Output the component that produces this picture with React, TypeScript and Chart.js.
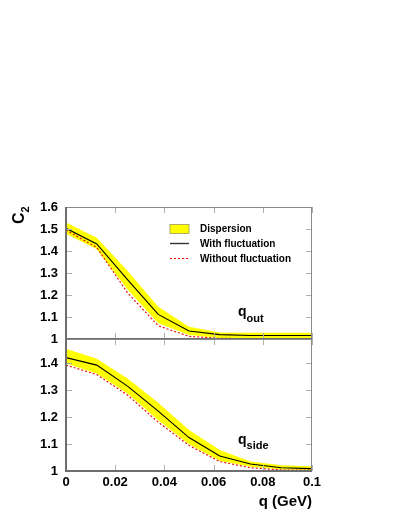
import { useEffect, useRef } from 'react';
import { Chart, registerables } from 'chart.js';

Chart.register(...registerables);

// q grid (GeV)
const Q = [0, 0.0125, 0.025, 0.0375, 0.05, 0.0625, 0.075, 0.0875, 0.1];

// q_out panel
const OUT_BAND_HI = [1.53, 1.46, 1.31, 1.147, 1.056, 1.03, 1.028, 1.028, 1.028];
const OUT_BAND_LO = [1.478, 1.408, 1.225, 1.072, 1.018, 1.005, 1.005, 1.005, 1.005];
const OUT_WITH = [1.503, 1.432, 1.27, 1.112, 1.036, 1.02, 1.016, 1.016, 1.016];
const OUT_WITHOUT = [1.495, 1.416, 1.21, 1.06, 1.012, 1.003, 1.002, 1.002, 1.002];

// q_side panel
const SIDE_BAND_HI = [1.454, 1.417, 1.343, 1.253, 1.152, 1.078, 1.035, 1.021, 1.018];
const SIDE_BAND_LO = [1.399, 1.362, 1.288, 1.188, 1.099, 1.038, 1.016, 1.006, 1.004];
const SIDE_WITH = [1.421, 1.393, 1.315, 1.222, 1.124, 1.056, 1.026, 1.012, 1.009];
const SIDE_WITHOUT = [1.393, 1.358, 1.282, 1.181, 1.095, 1.035, 1.012, 1.004, 1.003];

const X_TICKS = ['0', '0.02', '0.04', '0.06', '0.08', '0.1'];
const OUT_TICKS = ['1', '1.1', '1.2', '1.3', '1.4', '1.5', '1.6'];
const SIDE_TICKS = ['1', '1.1', '1.2', '1.3', '1.4'];

const LEGEND = ['Dispersion', 'With fluctuation', 'Without fluctuation'];

const FONT = '"Liberation Sans", Arial, Helvetica, sans-serif';
const YELLOW = '#ffff00';

const pts = (ys: number[]) => Q.map((q, i) => ({ x: q, y: ys[i] }));

function panel(axis: string, hi: number[], lo: number[], withF: number[], without: number[]) {
  return [
    { data: pts(hi), yAxisID: axis, fill: '+1', backgroundColor: YELLOW, borderWidth: 0, pointRadius: 0, order: 3 },
    { data: pts(lo), yAxisID: axis, fill: false, borderWidth: 0, pointRadius: 0, order: 3 },
    { data: pts(withF), yAxisID: axis, borderColor: '#000', borderWidth: 1.1, pointRadius: 0, order: 1 },
    {
      data: pts(without), yAxisID: axis, borderColor: '#ee0000', borderWidth: 1.1,
      borderDash: [2, 2], pointRadius: 0, order: 2,
    },
  ];
}

// ROOT-like frame: thick left/bottom axes, thin top/right, inward ticks
const framePlugin = {
  id: 'frame',
  afterDatasetsDraw(chart: any) {
    const { ctx, chartArea, scales } = chart;
    const { left, right } = chartArea;
    const xs = scales.x;
    ctx.save();
    for (const id of ['yOut', 'ySide']) {
      const s = scales[id];
      const top = s.top;
      const bottom = s.bottom;
      ctx.strokeStyle = '#b0b0b0';
      ctx.lineWidth = 1;
      ctx.beginPath();
      s.ticks.forEach((t: any) => {
        const py = Math.round(s.getPixelForValue(t.value)) + 0.5;
        ctx.moveTo(left, py);
        ctx.lineTo(left + 6, py);
        ctx.moveTo(right - 6, py);
        ctx.lineTo(right, py);
      });
      xs.ticks.forEach((t: any) => {
        const px = Math.round(xs.getPixelForValue(t.value)) + 0.5;
        ctx.moveTo(px, top);
        ctx.lineTo(px, top + 6);
        ctx.moveTo(px, bottom);
        ctx.lineTo(px, bottom - 6);
      });
      ctx.stroke();
      ctx.strokeStyle = '#8a8a8a';
      ctx.beginPath();
      ctx.moveTo(left, top + 0.5);
      ctx.lineTo(right, top + 0.5);
      ctx.moveTo(right - 0.5, top);
      ctx.lineTo(right - 0.5, bottom);
      ctx.stroke();
      ctx.strokeStyle = '#6e6e6e';
      ctx.lineWidth = 2;
      ctx.beginPath();
      ctx.moveTo(left - 1, bottom);
      ctx.lineTo(right, bottom);
      ctx.stroke();
    }
    ctx.strokeStyle = '#6e6e6e';
    ctx.lineWidth = 2;
    ctx.beginPath();
    ctx.moveTo(left, chartArea.top);
    ctx.lineTo(left, chartArea.bottom + 1);
    ctx.stroke();
    ctx.restore();
  },
};

function subText(ctx: CanvasRenderingContext2D, main: string, sub: string, x: number, y: number, size: number, subSize: number, drop: number) {
  ctx.font = `bold ${size}px ${FONT}`;
  ctx.fillText(main, x, y);
  const w = ctx.measureText(main).width;
  ctx.font = `bold ${subSize}px ${FONT}`;
  ctx.fillText(sub, x + w, y + drop);
}

const labelPlugin = {
  id: 'labels',
  afterDraw(chart: any) {
    const { ctx } = chart;
    ctx.save();
    ctx.fillStyle = '#000';
    ctx.textAlign = 'left';
    ctx.textBaseline = 'alphabetic';

    // legend
    ctx.fillStyle = YELLOW;
    ctx.fillRect(170, 224.5, 19, 9);
    ctx.strokeStyle = '#9a9a60';
    ctx.lineWidth = 0.8;
    ctx.strokeRect(170, 224.5, 19, 9);
    ctx.strokeStyle = '#333';
    ctx.lineWidth = 1.4;
    ctx.beginPath();
    ctx.moveTo(170, 243.5);
    ctx.lineTo(189, 243.5);
    ctx.stroke();
    ctx.strokeStyle = '#ff0000';
    ctx.lineWidth = 1;
    ctx.setLineDash([2, 2]);
    ctx.beginPath();
    ctx.moveTo(170, 258.5);
    ctx.lineTo(189, 258.5);
    ctx.stroke();
    ctx.setLineDash([]);
    ctx.fillStyle = '#000';
    ctx.font = `bold 10px ${FONT}`;
    ctx.textBaseline = 'middle';
    ctx.fillText(LEGEND[0], 200, 229.5);
    ctx.fillText(LEGEND[1], 200, 244.5);
    ctx.fillText(LEGEND[2], 200, 259.5);

    ctx.textBaseline = 'alphabetic';
    subText(ctx, 'q', 'out', 238, 316, 14, 11, 5.5);
    subText(ctx, 'q', 'side', 238, 443.5, 14, 11, 5.5);

    // x title
    ctx.font = `bold 15px ${FONT}`;
    ctx.textAlign = 'right';
    ctx.fillText('q (GeV)', 312, 506);

    // y title, rotated
    ctx.textAlign = 'left';
    ctx.translate(0, 224);
    ctx.rotate(-Math.PI / 2);
    subText(ctx, 'C', '2', 0, 23.5, 16, 11, 5);
    ctx.restore();
  },
};

const tickFont = { family: FONT, size: 13, weight: 'bold' as const };

export default function App() {
  const canvasRef = useRef<HTMLCanvasElement>(null);

  useEffect(() => {
    if (!canvasRef.current) return;
    const chart = new Chart(canvasRef.current, {
      type: 'line',
      data: {
        datasets: [
          ...panel('yOut', OUT_BAND_HI, OUT_BAND_LO, OUT_WITH, OUT_WITHOUT),
          ...panel('ySide', SIDE_BAND_HI, SIDE_BAND_LO, SIDE_WITH, SIDE_WITHOUT),
        ] as any,
      },
      options: {
        animation: false,
        responsive: false,
        layout: { padding: { top: 207, right: 96, bottom: 0, left: 0 } },
        plugins: {
          legend: { display: false },
          tooltip: { enabled: false },
          filler: { propagate: false, drawTime: 'beforeDatasetsDraw' },
        },
        elements: { line: { tension: 0 } },
        scales: {
          // stacked axes: the one listed first ends up at the bottom
          ySide: {
            type: 'linear',
            position: 'left',
            stack: 'c2',
            stackWeight: 1,
            min: 1,
            max: 1.49,
            grid: { display: false },
            border: { display: false },
            ticks: {
              stepSize: 0.1,
              includeBounds: false,
              autoSkip: false,
              padding: 0,
              color: '#000',
              font: tickFont,
              callback: (_v, i) => SIDE_TICKS[i],
            },
            afterFit: (s) => { s.width = 66; },
          },
          yOut: {
            type: 'linear',
            position: 'left',
            stack: 'c2',
            stackWeight: 1,
            min: 1,
            max: 1.6,
            grid: { display: false },
            border: { display: false },
            ticks: {
              stepSize: 0.1,
              includeBounds: false,
              autoSkip: false,
              padding: 0,
              color: '#000',
              font: tickFont,
              callback: (_v, i) => OUT_TICKS[i],
            },
            afterFit: (s) => { s.width = 66; },
          },
          x: {
            type: 'linear',
            position: 'bottom',
            min: 0,
            max: 0.1,
            grid: { display: false },
            border: { display: false },
            ticks: {
              stepSize: 0.02,
              autoSkip: false,
              maxRotation: 0,
              padding: -4,
              color: '#000',
              font: tickFont,
              callback: (_v, i) => X_TICKS[i],
            },
            afterFit: (s) => { s.height = 57; },
          },
        },
      },
      plugins: [framePlugin, labelPlugin],
    });
    return () => chart.destroy();
  }, []);

  return (
    <div style={{ position: 'fixed', left: 0, top: 0, width: 408, height: 528, background: '#fff' }}>
      <canvas
        ref={canvasRef}
        width={408}
        height={528}
        style={{ width: 408, height: 528 }}
        role="img"
        aria-label="Two-panel chart of C2 versus q (GeV) for q_out and q_side, with dispersion band, with and without fluctuation"
      />
    </div>
  );
}
